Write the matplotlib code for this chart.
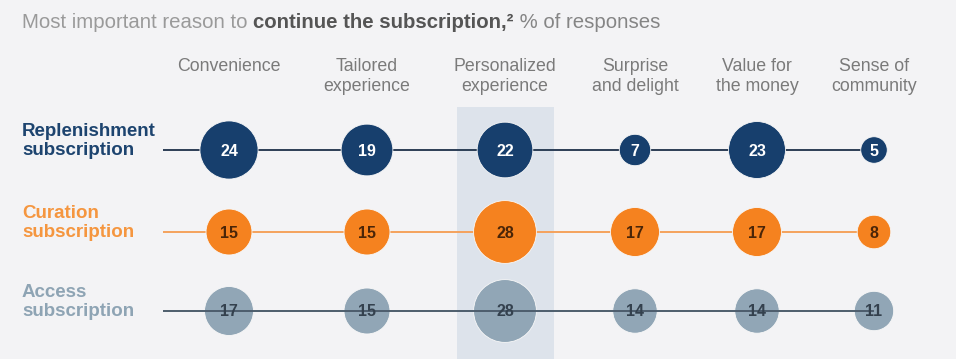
import matplotlib
matplotlib.use("Agg")
import matplotlib.pyplot as plt
from matplotlib.patches import Rectangle

plt.rcParams['font.family'] = ['Liberation Sans', 'DejaVu Sans']

# data
reasons = ["Convenience", "Tailored\nexperience", "Personalized\nexperience",
           "Surprise\nand delight", "Value for\nthe money", "Sense of\ncommunity"]
segments = ["Replenishment\nsubscription", "Curation\nsubscription", "Access\nsubscription"]
replenishment = [24, 19, 22, 7, 23, 5]
curation = [15, 15, 28, 17, 17, 8]
access = [17, 15, 28, 14, 14, 11]
highlight = 2  # "Personalized experience"

# layout: column centres in pixels (columns are not evenly spaced in the original)
col_px = [229, 367, 505, 635, 757, 874]
row_px = [150, 232, 311]

bg = "#f3f3f5"
fill_cols = ["#173f6d", "#f5821f", "#91a6b6"]
line_cols = ["#2c3e55", "#f5a25c", "#4d5d6c"]
label_cols = ["#1d446f", "#f5963f", "#8ea4b4"]
num_cols = ["white", "#4a2508", "#34414e"]

fig = plt.figure(figsize=(9.56, 3.59), dpi=100, facecolor=bg)
ax = fig.add_axes([0, 0, 1, 1])
ax.set_facecolor(bg)
ax.set_axis_off()
ax.set_xlim(0, 956)
ax.set_ylim(359, 0)

ax.add_patch(Rectangle((col_px[highlight] - 48, 107), 97, 260, facecolor="#dde3eb",
                       edgecolor="none", zorder=0))

series = [replenishment, curation, access]
for i, vals in enumerate(series):
    y = row_px[i]
    # the access line runs over its circles, the others beneath
    lz = 4 if i == 2 else 1
    ax.plot([163, col_px[-1]], [y, y], color=line_cols[i], lw=1.4, zorder=lz,
            solid_capstyle="butt")
    ax.scatter(col_px, [y] * len(col_px), s=[73 * v for v in vals], color=fill_cols[i],
               edgecolors="#f8f8f8", linewidths=0.6, zorder=3)
    for x, v in zip(col_px, vals):
        ax.text(x, y + 1, str(v), ha="center", va="center", fontsize=11.5,
                fontweight="bold", color=num_cols[i], zorder=5)
    ax.text(22, y - 9, segments[i], ha="left", va="center", fontsize=13.5,
            fontweight="bold", color=label_cols[i], linespacing=1.15)

for x, r in zip(col_px, reasons):
    ax.text(x, 58, r, ha="center", va="top", fontsize=12.8,
            color="#7a7a7a", linespacing=1.2)

# title with mixed weights
pieces = [("Most important reason to ", "normal", "#9a9a9a"),
          ("continue the subscription,²", "bold", "#555555"),
          (" % of responses", "normal", "#858585")]
renderer = fig.canvas.get_renderer()
xpos = 22
for txt, w, c in pieces:
    t = fig.text(xpos / 956, 1 - 23 / 359, txt, ha="left", va="center",
                 fontsize=14.7, fontweight=w, color=c)
    bb = t.get_window_extent(renderer=renderer)
    xpos += bb.width

fig.savefig("out.png", dpi=100, facecolor=bg)
